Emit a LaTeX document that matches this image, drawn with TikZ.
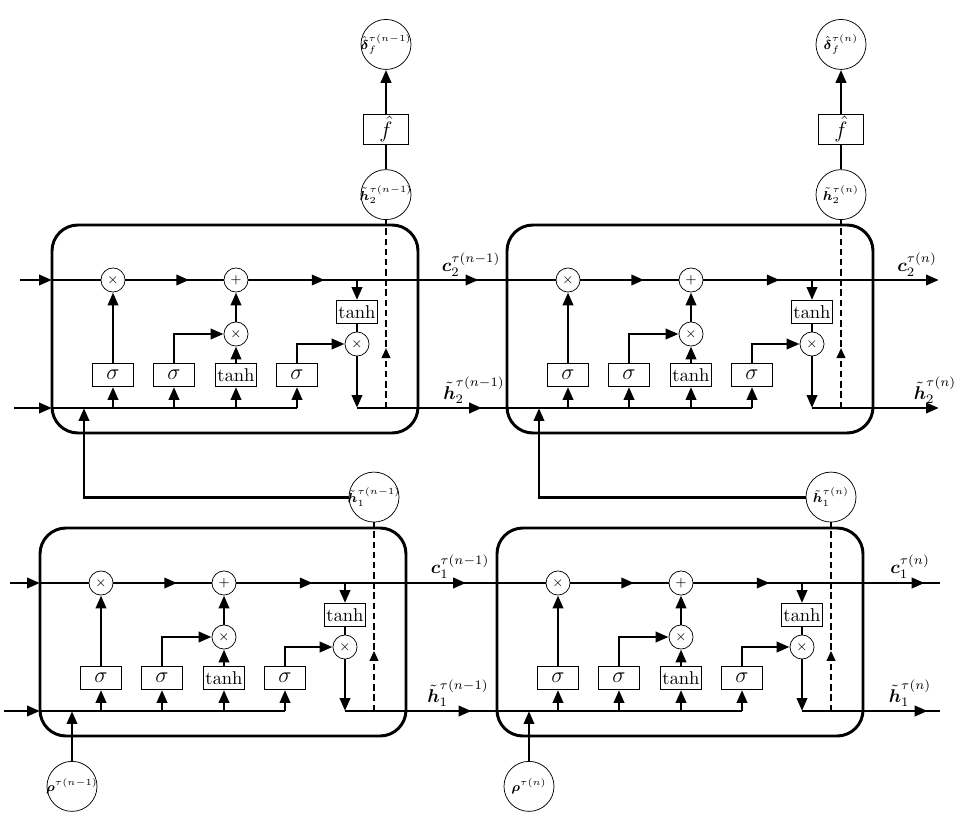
\documentclass[tikz,border=0pt]{standalone}
\usepackage{amssymb}
\usepackage{tikz}
\usepackage{amsmath}
\usetikzlibrary{arrows.meta,positioning,decorations.markings}

\begin{document}
\begin{tikzpicture}[x=0.54pt,y=0.54pt,>={Triangle[length=7pt,width=5.5pt]},
  flow/.style={line width=1.6pt},
  peep/.style={line width=1.4pt,dash pattern=on 3.5pt off 2pt,
    postaction={decorate,decoration={markings,mark=at position 0.32 with {\arrow{Triangle[length=5.5pt,width=4.5pt]}}}}},
  midarrow/.style={postaction={decorate,decoration={markings,mark=at position #1 with {\arrow{>}}}}},
  op/.style={circle,draw,thin,minimum size=13pt,inner sep=0pt,font=\scriptsize},
  gate/.style={rectangle,draw,thin,minimum width=22.5pt,minimum height=12.5pt,inner sep=1pt},
  var/.style={circle,draw,thin,minimum size=27pt,inner sep=-3pt,font=\fontsize{7.5pt}{9pt}\selectfont},
  lab/.style={inner sep=1pt,anchor=south},
  cell/.pic={
    \draw[flow,rounded corners=14pt] (0,0) rectangle (366,-208);
    \coordinate (-cin) at (0,-55);
    \coordinate (-hin) at (0,-183);
    \coordinate (-cout) at (366,-55);
    \coordinate (-hout) at (366,-183);
    \coordinate (-x) at (32,-183);
    \coordinate (-ct) at (305,-55);
    \coordinate (-ht) at (305,-183);
    \coordinate (-d) at (334,-183);
    \coordinate (-dt) at (334,0);
    \node[op] (-f) at (61,-55) {$\times$};
    \node[op] (-add) at (184,-55) {$+$};
    \node[op] (-m) at (184,-109) {$\times$};
    \node[gate] (-s1) at (61,-150) {\large$\sigma$};
    \node[gate] (-s2) at (122,-150) {\large$\sigma$};
    \node[gate] (-t1) at (184,-150) {$\tanh$};
    \node[gate] (-s3) at (245,-150) {\large$\sigma$};
    \node[gate] (-t2) at (305,-87) {$\tanh$};
    \node[op] (-o) at (305,-119) {$\times$};
    % cell state
    \draw[flow] (-cin) -- (-f);
    \draw[flow,midarrow=0.65] (-f) -- (-add);
    \draw[flow,midarrow=0.45] (-add) -- (-cout);
    % gates
    \draw[flow] (-hin) -- (-s3 |- -hin);
    \draw[flow,->] (-s1 |- -hin) -- (-s1);
    \draw[flow,->] (-s2 |- -hin) -- (-s2);
    \draw[flow,->] (-t1 |- -hin) -- (-t1);
    \draw[flow,->] (-s3 |- -hin) -- (-s3);
    \draw[flow,->] (-s1) -- (-f);
    \draw[flow,->] (-s2) |- (-m);
    \draw[flow,->] (-t1) -- (-m);
    \draw[flow,->] (-m) -- (-add);
    \draw[flow,->] (-s3) |- (-o);
    % output
    \draw[flow,->] (-ct) -- (-t2);
    \draw[flow] (-t2) -- (-o);
    \draw[flow,->] (-o) -- (-ht);
    \draw[flow] (-ht) -- (-hout);
  }]
  \useasboundingbox (0,0) rectangle (958,-834);

  \pic (A) at (52,-225) {cell};
  \pic (B) at (507,-225) {cell};
  \pic (C) at (40,-528) {cell};
  \pic (D) at (497,-528) {cell};

  % outputs of the upper layer
  \node[var,above=2.7pt of A-dt] (h2a) {$\tilde{\boldsymbol{h}}_2^{\tau(n-1)}$};
  \node[gate,minimum width=24pt,minimum height=16pt,above=13.5pt of h2a] (fa) {\large$\hat{f}$};
  \node[var,above=23.8pt of fa] (da) {$\hat{\boldsymbol{\delta}}_f^{\tau(n-1)}$};
  \node[var,above=2.7pt of B-dt] (h2b) {$\tilde{\boldsymbol{h}}_2^{\tau(n)}$};
  \node[gate,minimum width=24pt,minimum height=16pt,above=13.5pt of h2b] (fb) {\large$\hat{f}$};
  \node[var,above=23.8pt of fb] (db) {$\hat{\boldsymbol{\delta}}_f^{\tau(n)}$};
  % lower layer
  \node[var,above=3pt of C-dt] (h1a) {$\tilde{\boldsymbol{h}}_1^{\tau(n-1)}$};
  \node[var,above=3pt of D-dt] (h1b) {$\tilde{\boldsymbol{h}}_1^{\tau(n)}$};
  \node[var,below=27pt of C-x] (ra) {$\boldsymbol{\rho}^{\tau(n-1)}$};
  \node[var,below=27pt of D-x] (rb) {$\boldsymbol{\rho}^{\tau(n)}$};

  \draw[flow] (h2a) -- (fa);
  \draw[flow,->] (fa) -- (da);
  \draw[flow] (h2b) -- (fb);
  \draw[flow,->] (fb) -- (db);
  \draw[peep] (A-d) -- (h2a);
  \draw[peep] (B-d) -- (h2b);
  \draw[peep] (C-d) -- (h1a);
  \draw[peep] (D-d) -- (h1b);
  \draw[flow,->] (h1a) -| (A-x);
  \draw[flow,->] (h1b) -| (B-x);
  \draw[flow,->] (ra) -- (C-x);
  \draw[flow,->] (rb) -- (D-x);

  % states between the cells
  \coordinate (c2in) at (20,-280);
  \coordinate (h2in) at (14,-408);
  \coordinate (c1in) at (10,-583);
  \coordinate (h1in) at (4,-711);
  \coordinate (c2out) at (939,-280);
  \coordinate (h2out) at (939,-408);
  \coordinate (c1out) at (940,-583);
  \coordinate (h1out) at (940,-711);
  \draw[flow,->] (c2in) -- (A-cin);
  \draw[flow,->] (h2in) -- (A-hin);
  \draw[flow,->] (c1in) -- (C-cin);
  \draw[flow,->] (h1in) -- (C-hin);
  \draw[flow,midarrow=0.68] (A-cout) -- (B-cin);
  \draw[flow,midarrow=0.72] (A-hout) -- (B-hin);
  \draw[flow,midarrow=0.66] (C-cout) -- (D-cin);
  \draw[flow,midarrow=0.72] (C-hout) -- (D-hin);
  \draw[flow,->] (B-cout) -- (c2out);
  \draw[flow,->] (B-hout) -- (h2out);
  \draw[flow,midarrow=0.8] (D-cout) -- (c1out);
  \draw[flow,midarrow=0.84] (D-hout) -- (h1out);

  \node[lab] (lc2a) at (471,-279) {$\boldsymbol{c}_2^{\tau(n-1)}$};
  \node[lab] (lh2a) at (474,-406) {$\tilde{\boldsymbol{h}}_2^{\tau(n-1)}$};
  \node[lab] (lc2b) at (917,-279) {$\boldsymbol{c}_2^{\tau(n)}$};
  \node[lab] (lh2b) at (935,-406) {$\tilde{\boldsymbol{h}}_2^{\tau(n)}$};
  \node[lab] (lc1a) at (460,-581) {$\boldsymbol{c}_1^{\tau(n-1)}$};
  \node[lab] (lh1a) at (458,-709) {$\tilde{\boldsymbol{h}}_1^{\tau(n-1)}$};
  \node[lab] (lc1b) at (910,-581) {$\boldsymbol{c}_1^{\tau(n)}$};
  \node[lab] (lh1b) at (910,-709) {$\tilde{\boldsymbol{h}}_1^{\tau(n)}$};
\end{tikzpicture}
\end{document}
